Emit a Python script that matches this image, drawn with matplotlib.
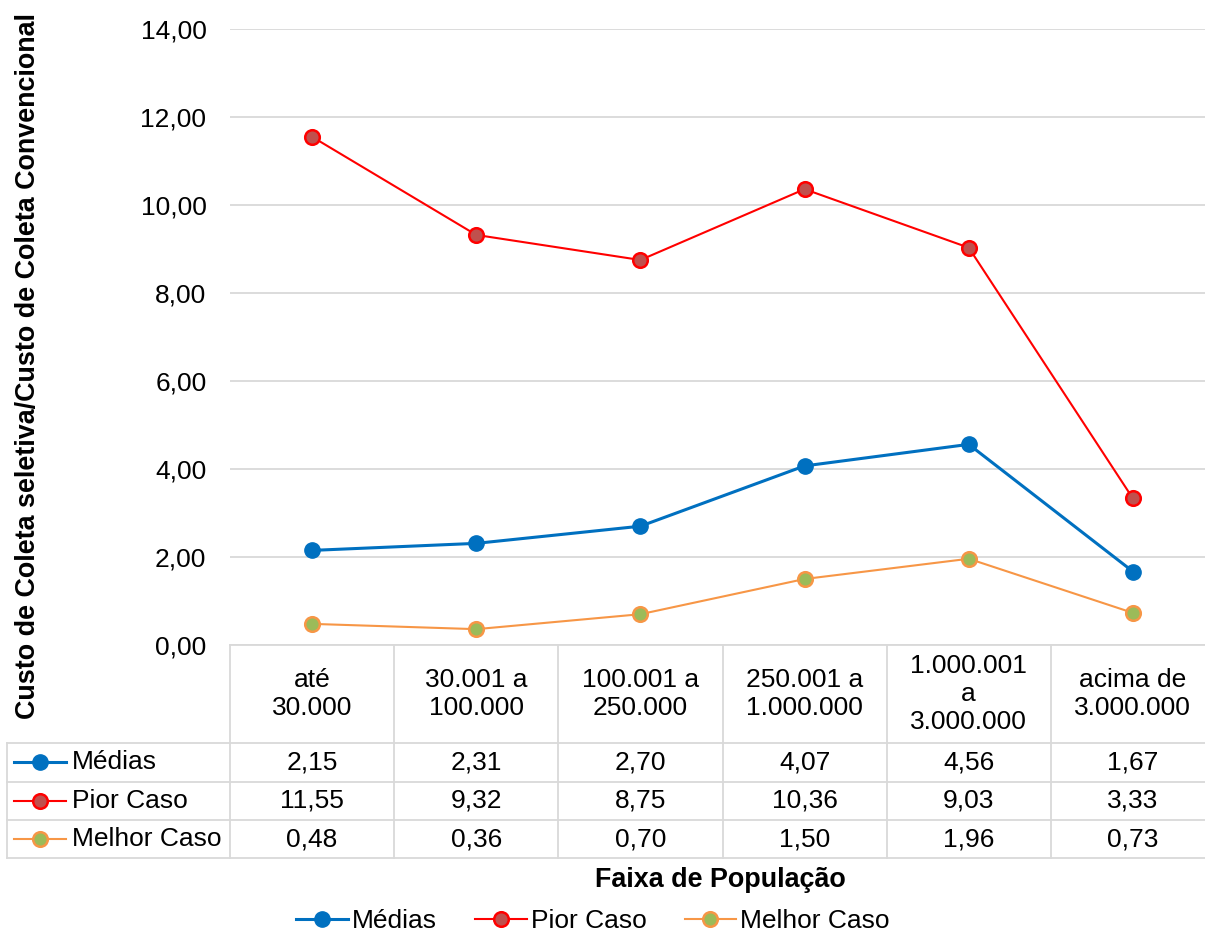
"""Custo relativo da coleta seletiva por faixa de população, com tabela de dados."""
import matplotlib
matplotlib.use("Agg")
import matplotlib.pyplot as plt
from matplotlib.lines import Line2D

plt.rcParams["font.family"] = ["Liberation Sans", "DejaVu Sans"]

faixas = ["até\n30.000", "30.001 a\n100.000", "100.001 a\n250.000",
          "250.001 a\n1.000.000", "1.000.001\na\n3.000.000", "acima de\n3.000.000"]
medias = [2.15, 2.31, 2.70, 4.07, 4.56, 1.67]
pior_caso = [11.55, 9.32, 8.75, 10.36, 9.03, 3.33]
melhor_caso = [0.48, 0.36, 0.70, 1.50, 1.96, 0.73]
yticks = [0, 2, 4, 6, 8, 10, 12, 14]

series = [
    ("Médias", medias, dict(color="#0070C0", lw=2.2, marker="o", ms=11,
                            mfc="#0070C0", mec="#0070C0", mew=1.0)),
    ("Pior Caso", pior_caso, dict(color="#FF0000", lw=1.5, marker="o", ms=10.5,
                                  mfc="#C0504D", mec="#FF0000", mew=1.8)),
    ("Melhor Caso", melhor_caso, dict(color="#F79646", lw=1.5, marker="o", ms=10.5,
                                      mfc="#9BBB59", mec="#F79646", mew=1.8)),
]

FS = 19
FS_TITLE = 19.4
GRID = "#D9D9D9"
W, H = 1205, 933

fig = plt.figure(figsize=(W / 100, H / 100), dpi=100)

# área do gráfico (em px da figura): x 230..1215, y 29..645
left, right, top, base, tbot = 230, 1215, 29, 645, 858
ax = fig.add_axes([left / W, 1 - base / H, (right - left) / W, (base - top) / H])
x = list(range(len(faixas)))
for name, vals, st in series:
    ax.plot(x, vals, label=name, zorder=3, **st)
ax.set_xlim(-0.5, len(faixas) - 0.5)
ax.set_ylim(0, 14)
ax.set_yticks(yticks)
ax.set_yticklabels([f"{v:.2f}".replace(".", ",") for v in yticks], fontsize=FS)
ax.tick_params(axis="y", length=0, pad=17)
ax.set_xticks([])
ax.grid(axis="y", color=GRID, lw=1.3)
ax.set_axisbelow(True)
for s in ax.spines.values():
    s.set_visible(False)

# tabela de dados abaixo do eixo
tab = fig.add_axes([left / W, 1 - tbot / H, (right - left) / W, (tbot - base) / H])
tab.set_xlim(-0.5, len(faixas) - 0.5)
tab.set_ylim(tbot - base, 0)
tab.axis("off")

colw = (right - left) / len(faixas)


def px2x(px):
    return -0.5 + (px - left) / colw


row_edges = [0, 98, 136.5, 175, 213]
lx0 = px2x(7)
lk = dict(color=GRID, lw=1.3, clip_on=False)
tab.plot([-0.5, 5.5], [0, 0], **lk)
for ry in row_edges[1:]:
    tab.plot([lx0, 5.5], [ry, ry], **lk)
for cx in [i - 0.5 for i in range(len(faixas) + 1)]:
    tab.plot([cx, cx], [0, row_edges[-1]], **lk)
tab.plot([lx0, lx0], [row_edges[1], row_edges[-1]], **lk)

for i, lab in enumerate(faixas):
    tab.text(i, row_edges[1] / 2, lab, ha="center", va="center",
             fontsize=FS, linespacing=1.2)

for r, (name, vals, st) in enumerate(series):
    yc = (row_edges[r + 1] + row_edges[r + 2]) / 2
    for i, v in enumerate(vals):
        tab.text(i, yc, f"{v:.2f}".replace(".", ","), ha="center", va="center",
                 fontsize=FS)
    tab.plot([px2x(14), px2x(66)], [yc, yc], color=st["color"], lw=st["lw"],
             clip_on=False)
    tab.plot([px2x(40)], [yc], ls="none", marker="o", ms=st["ms"], mfc=st["mfc"],
             mec=st["mec"], mew=st["mew"], clip_on=False)
    tab.text(px2x(72), yc, name, ha="left", va="center", fontsize=FS)

fig.text(28 / W, 1 - 366 / H,
         "Custo de Coleta seletiva/Custo de Coleta Convencional",
         rotation=90, ha="center", va="center", fontsize=FS_TITLE, fontweight="bold")
fig.text(720 / W, 1 - 880 / H, "Faixa de População", ha="center", va="center",
         fontsize=FS_TITLE, fontweight="bold")

handles = [Line2D([], [], **st) for _, _, st in series]
fig.legend(handles, [s[0] for s in series], loc="center",
           bbox_to_anchor=(593 / W, 1 - 921 / H), ncol=3, frameon=False,
           fontsize=FS, handlelength=1.95, handletextpad=0.15, columnspacing=1.45)

fig.savefig("out.png", dpi=100)
